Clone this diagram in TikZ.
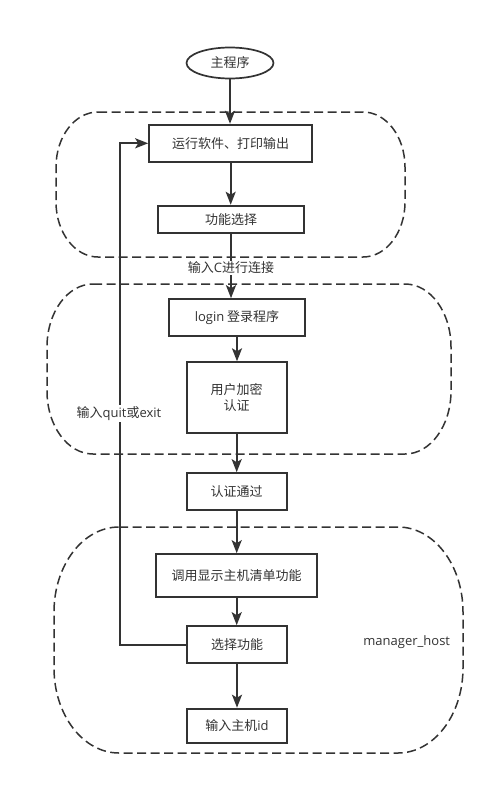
\documentclass[tikz,border=0pt]{standalone}
\usepackage{fontspec}
\setmainfont{Noto Sans CJK SC}
\newfontfamily\lat{Open Sans}
\usetikzlibrary{arrows.meta,shapes.geometric}
\definecolor{ink}{HTML}{333333}
\newcommand{\dgroup}[6]{%
  \pgfmathsetmacro\ka{#5*0.5523}\pgfmathsetmacro\kb{#6*0.5523}%
  \draw[grp] (#1+#5,#2) -- (#3-#5,#2)
    .. controls (#3-#5+\ka,#2) and (#3,#2+#6-\kb) .. (#3,#2+#6)
    -- (#3,#4-#6)
    .. controls (#3,#4-#6+\kb) and (#3-#5+\ka,#4) .. (#3-#5,#4)
    -- (#1+#5,#4)
    .. controls (#1+#5-\ka,#4) and (#1,#4-#6+\kb) .. (#1,#4-#6)
    -- (#1,#2+#6)
    .. controls (#1,#2+#6-\kb) and (#1+#5-\ka,#2) .. cycle;}
\tikzset{
  grp/.style={draw=ink,line width=1.5pt,dash pattern=on 9pt off 4.5pt},
  box/.style={draw=ink,line width=2pt,fill=white,inner sep=0pt,text=ink,font=\fontsize{13}{16}\selectfont,align=center},
  arr/.style={draw=ink,line width=2pt,-{Stealth[length=13pt,width=10pt,inset=3pt]}},
  lbl/.style={fill=white,inner sep=1pt,text=ink,font=\fontsize{13}{16}\selectfont},
}
\begin{document}
\begin{tikzpicture}[x=1pt,y=-1pt]
\useasboundingbox[fill=white] (0,0) rectangle (494,787);
\dgroup{56}{112}{405}{257}{42}{55}
\dgroup{47}{284}{451}{454}{46}{63}
\dgroup{54}{527}{463}{753}{65}{85}

\node[box,ellipse,minimum width=87pt,minimum height=31pt,line width=1.7pt] (main) at (230,63) {主程序};
\node[box,minimum width=163pt,minimum height=37pt] (b1) at (230.7,143.3) {运行软件、打印输出};
\node[box,minimum width=146pt,minimum height=27.5pt] (b2) at (231,219.5) {功能选择};
\node[box,minimum width=136pt,minimum height=37pt] (login) at (237,317.7) {{\lat login} 登录程序};
\node[box,minimum width=100pt,minimum height=71pt] (auth) at (236.7,397.8) {用户加密\\认证};
\node[box,minimum width=100pt,minimum height=37pt] (pass) at (236.7,491.7) {认证通过};
\node[box,minimum width=161pt,minimum height=43pt] (list) at (236.7,575.7) {调用显示主机清单功能};
\node[box,minimum width=100pt,minimum height=37pt] (sel) at (237,644.7) {选择功能};
\node[box,minimum width=100pt,minimum height=34pt] (hid) at (237,725.7) {输入主机{\lat id}};

\coordinate (fb) at (120,644.7);
\draw[arr] (main.south) -- (main.south |- b1.north);
\draw[arr] (b1.south) -- (b1.south |- b2.north);
\draw[arr] (b2.south) -- (b2.south |- login.north);
\draw[arr] (login.south) -- (login.south |- auth.north);
\draw[arr] (auth.south) -- (auth.south |- pass.north);
\draw[arr] (pass.south) -- (pass.south |- list.north);
\draw[arr] (list.south) -- (list.south |- sel.north);
\draw[arr] (sel.south) -- (sel.south |- hid.north);
\draw[arr] (sel.west) -- (fb) |- (b1.west);

\node[lbl] (lc) at (231,268) {输入{\lat C}进行连接};
\node[lbl] (lq) at (119,413.5) {输入{\lat quit}或{\lat exit}};
\node[text=ink,font=\fontsize{13}{16}\selectfont\lat] (mh) at (406.7,641.7) {manager\_host};
\end{tikzpicture}
\end{document}
